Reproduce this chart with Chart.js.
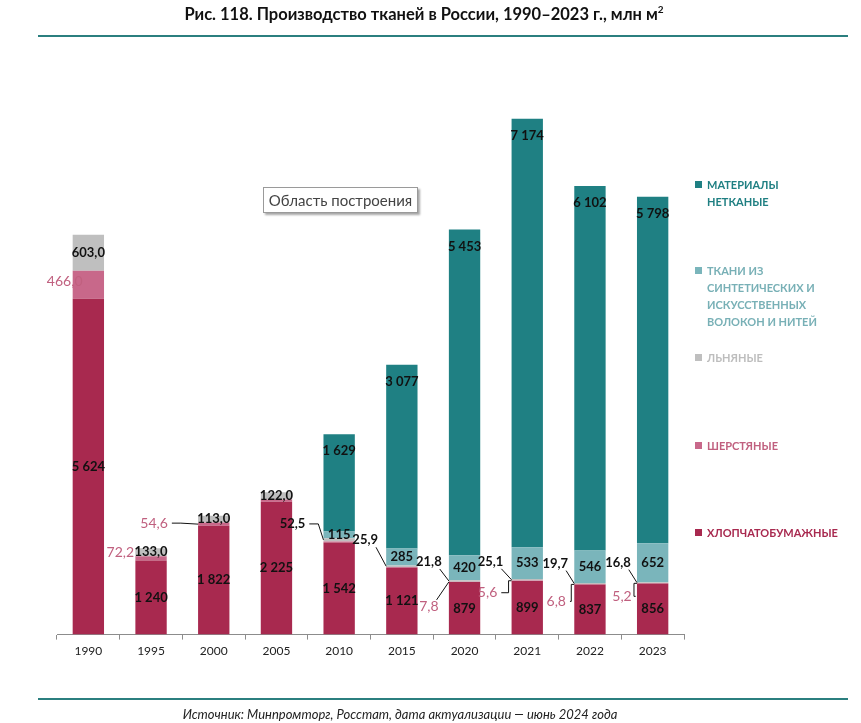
<!DOCTYPE html>
<html lang="ru">
  <head>
    <meta charset="UTF-8" />
    <title>Производство тканей в России</title>
    <script src="https://cdn.jsdelivr.net/npm/chart.js"></script>
    <style>
      body { margin: 0; background: #fff; font-family: Lato, "Noto Sans", sans-serif; }
      #wrap { position: relative; width: 861px; height: 723px; overflow: hidden; }
      #title { position: absolute; left: 0; width: 848px; top: 3px; text-align: center;
               font-weight: bold; font-size: 16.5px; color: #111; }
      #title sup { font-size: 10px; }
      .rule { position: absolute; left: 38px; width: 810px; height: 2px; background: #2b7f7f; }
      #source { position: absolute; left: 0; width: 800px; top: 706px; text-align: center;
                font-style: italic; font-size: 13px; color: #222; }
      #legend { position: absolute; left: 694px; top: 0; }
      .item { position: absolute; left: 0; width: 160px; font-weight: bold; font-size: 11px;
              line-height: 17px; white-space: pre-line; padding-left: 13px; }
      .item i { position: absolute; left: 1px; top: 5px; width: 7px; height: 7px; }
      #plotTip { position: absolute; left: 263px; top: 187px; width: 153px; height: 24px;
                 border: 1px solid #9a9a9a; background: #fff; box-shadow: 2px 2px 2px rgba(0,0,0,.35);
                 font-size: 15px; line-height: 24px; text-align: center; color: #444; }
      canvas { position: absolute; left: 0; top: 0; }
    </style>
  </head>
  <body>
    <div id="wrap">
      <canvas id="tkaniChart" width="861" height="723"></canvas>
      <div id="title">Рис. 118. Производство тканей в России, 1990–2023 г., млн м<sup>2</sup></div>
      <div class="rule" style="top: 35px"></div>
      <div class="rule" style="top: 698px"></div>
      <div id="source">Источник: Минпромторг, Росстат, дата актуализации — июнь 2024 года</div>
      <div id="plotTip">Область построения</div>
      <div id="legend"></div>
    </div>

    <script>
      // Годы
      const years = ["1990", "1995", "2000", "2005", "2010", "2015", "2020", "2021", "2022", "2023"];

      // Производство, млн м2
      const cotton = [5624, 1240, 1822, 2225, 1542, 1121, 879, 899, 837, 856];
      const wool = [466, 72.2, 54.6, 38, 17, 10, 7.8, 5.6, 6.8, 5.2];
      const linen = [603, 133, 113, 122, 52.5, 25.9, 21.8, 25.1, 19.7, 16.8];
      const synthetic = [0, 0, 0, 0, 115, 285, 420, 533, 546, 652];
      const nonwoven = [0, 0, 0, 0, 1629, 3077, 5453, 7174, 6102, 5798];

      const seriesNames = [
        "ХЛОПЧАТОБУМАЖНЫЕ",
        "ШЕРСТЯНЫЕ",
        "ЛЬНЯНЫЕ",
        "ТКАНИ ИЗ\nСИНТЕТИЧЕСКИХ И\nИСКУССТВЕННЫХ\nВОЛОКОН И НИТЕЙ",
        "МАТЕРИАЛЫ\nНЕТКАНЫЕ",
      ];
      const seriesColors = ["#a8294f", "#c8688a", "#bfbfbf", "#7ab5bb", "#1f8083"];
      const legendText = ["#a8294f", "#c0607f", "#bdbdbd", "#78b0b6", "#1f7f82"];
      const legendTop = [524, 437, 349, 262, 176];

      // Размещение подписей: 'c' – по центру, 'e' – у верхнего края, объект – выноска
      const labelPlace = [
        Array(10).fill("c"),
        [{ dx: -8, dy: -3 }, { dx: -15, dy: -6 }, { dx: -44, dy: -1, line: "stub" }, null, null, null,
         { dx: -20, dy: 25, line: "diag" }, { dx: -24, dy: 12, line: "elbow" },
         { dx: -18, dy: 17, line: "elbow" }, { dx: -15, dy: 13, line: "elbow" }],
        ["c", "c", "c", "c", { dx: -31, dy: -16, line: "stub" }, { dx: -21, dy: -26, line: "diag" },
         { dx: -20, dy: -19, line: "diag" }, { dx: -21, dy: -18, line: "diag" },
         { dx: -19, dy: -20, line: "diag" }, { dx: -19, dy: -20, line: "diag" }],
        Array(10).fill("c"),
        Array(10).fill("e"),
      ];

      function fmt(v, si) {
        if (si === 1 || si === 2) return v.toFixed(1).replace(".", ",");
        return String(Math.round(v)).replace(/\B(?=(\d{3})+(?!\d))/g, "\u00a0");
      }

      const segLabels = {
        id: "segLabels",
        afterDatasetsDraw(chart) {
          const ctx = chart.ctx;
          ctx.save();
          ctx.textBaseline = "middle";
          chart.data.datasets.forEach((ds, si) => {
            const meta = chart.getDatasetMeta(si);
            meta.data.forEach((bar, i) => {
              const v = ds.data[i];
              const place = labelPlace[si][i];
              if (!v || !place) return;
              const text = fmt(v, si);
              const pink = si === 1;
              ctx.font = pink ? "14px Lato" : "bold 13px Lato";
              ctx.fillStyle = pink ? "#c0607f" : "#111";
              ctx.textAlign = "center";
              const mid = (bar.y + bar.base) / 2;
              if (place === "c") {
                ctx.fillText(text, bar.x, mid);
                return;
              }
              if (place === "e") {
                ctx.fillText(text, bar.x, bar.y + 17);
                return;
              }
              const left = bar.x - bar.width / 2;
              const lx = left + place.dx;
              const ly = mid + place.dy;
              ctx.fillText(text, lx, ly);
              if (!place.line) return;
              const w = ctx.measureText(text).width;
              ctx.strokeStyle = "#111";
              ctx.lineWidth = 1;
              ctx.beginPath();
              if (place.line === "stub") {
                ctx.moveTo(lx + w / 2 + 4, ly);
                ctx.lineTo(lx + w / 2 + 13, ly);
                ctx.lineTo(left, mid);
              } else if (place.line === "diag") {
                const cy = place.dy < 0 ? ly + 7 : ly - 7;
                ctx.moveTo(lx + w / 2 - 2, cy);
                ctx.lineTo(left, mid);
              } else {
                ctx.moveTo(lx + w / 2 + 4, ly);
                ctx.lineTo(left - 3, ly);
                ctx.lineTo(left - 3, mid);
                ctx.lineTo(left, mid);
              }
              ctx.stroke();
            });
          });
          ctx.restore();
        },
      };

      const seriesData = [cotton, wool, linen, synthetic, nonwoven];

      new Chart(document.getElementById("tkaniChart"), {
        type: "bar",
        data: {
          labels: years,
          datasets: seriesData.map((d, k) => ({
            label: seriesNames[k],
            data: d,
            backgroundColor: seriesColors[k],
            borderWidth: 0,
            categoryPercentage: 1,
            barPercentage: 0.5,
          })),
        },
        options: {
          responsive: false,
          animation: false,
          layout: { padding: { left: 57, right: 177, top: 97, bottom: 61 } },
          plugins: { legend: { display: false }, tooltip: { enabled: false } },
          scales: {
            x: {
              stacked: true,
              grid: { offset: true, drawOnChartArea: false, tickLength: 5, color: "#8c8c8c" },
              border: { color: "#8c8c8c" },
              ticks: { color: "#222", font: { family: "Lato", size: 12 }, padding: 4 },
            },
            y: { stacked: true, display: false, min: 0, max: 9000 },
          },
        },
        plugins: [segLabels],
      });

      // Легенда справа
      const legend = document.getElementById("legend");
      seriesNames.forEach((name, k) => {
        const el = document.createElement("div");
        el.className = "item";
        el.style.top = legendTop[k] + "px";
        el.style.color = legendText[k];
        el.innerHTML = '<i style="background:' + seriesColors[k] + '"></i>';
        el.appendChild(document.createTextNode(name));
        legend.appendChild(el);
      });
    </script>
  </body>
</html>
